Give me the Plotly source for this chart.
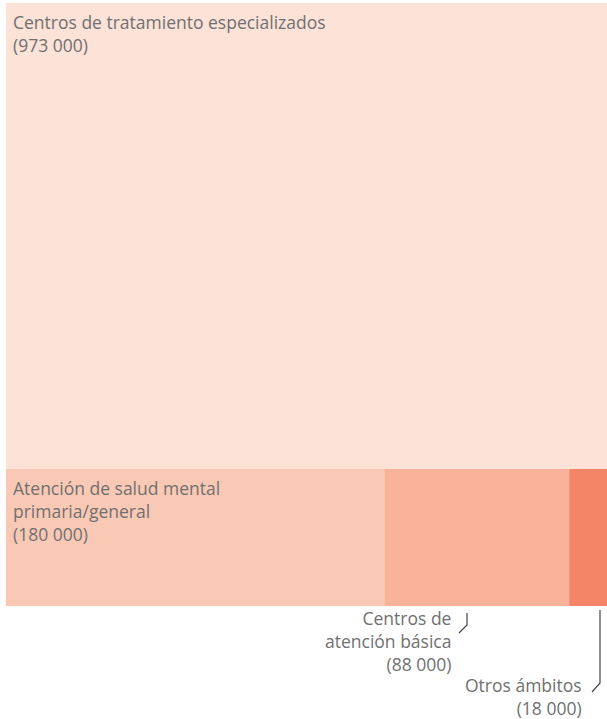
import plotly.graph_objects as go

# values (number of people), in the order they are laid out
labels = ["Centros de tratamiento especializados",
          "Atención de salud mental<br>primaria/general",
          "Centros de<br>atención básica",
          "Otros ámbitos"]
values = [973000, 180000, 88000, 18000]
colors = ["#FCE2D7", "#F9C9B5", "#F8B39A", "#F48566"]

W, H = 607, 719
ML, MR, MT, MB = 6, 0, 3, 113
TEXT = "#707070"
FONT = "Open Sans"
FS = 17.5


def fmt(v):
    return f"({v:,})".replace(",", " ")


def px(x, y):
    # pixel -> paper coords
    return (x - ML) / (W - ML - MR), (H - MB - y) / (H - MT - MB)


total = sum(values)
split = 1 - values[0] / total  # top block takes its share of the height
bottom_total = sum(values[1:])

rects = [(0, 1, split, 1)]
x = 0
for v in values[1:]:
    w = v / bottom_total
    rects.append((x, x + w, 0, split))
    x += w

fig = go.Figure()
for (x0, x1, y0, y1), c in zip(rects, colors):
    fig.add_trace(go.Scatter(
        x=[x0, x1, x1, x0, x0], y=[y0, y0, y1, y1, y0],
        mode="lines", fill="toself", fillcolor=c,
        line=dict(width=0), hoverinfo="skip", showlegend=False,
    ))

annotations = []
# labels inside the two big blocks
for i in (0, 1):
    x0, x1, y0, y1 = rects[i]
    annotations.append(dict(
        x=x0, y=y1, xref="x", yref="y", xanchor="left", yanchor="top",
        xshift=5, yshift=-5, align="left", showarrow=False,
        text=f"{labels[i]}<br>{fmt(values[i])}",
        font=dict(family=FONT, size=FS, color=TEXT),
    ))

# callouts for the two small blocks
for i, (tx, ty) in ((2, (453, 678)), (3, (584, 722))):
    ax, ay = px(tx, ty)
    annotations.append(dict(
        x=ax, y=ay, xref="paper", yref="paper", xanchor="right", yanchor="bottom",
        align="right", showarrow=False,
        text=f"{labels[i]}<br>{fmt(values[i])}",
        font=dict(family=FONT, size=FS, color=TEXT),
    ))

shapes = []
for pts in ([(467, 613), (467, 625), (459, 633)],
            [(600, 610), (600, 683), (592, 692)]):
    pp = [px(a, b) for a, b in pts]
    path = "M " + " L ".join(f"{a},{b}" for a, b in pp)
    shapes.append(dict(type="path", xref="paper", yref="paper", path=path,
                       line=dict(color="#444444", width=1.2)))

fig.update_layout(
    width=W, height=H,
    margin=dict(l=ML, r=MR, t=MT, b=MB),
    paper_bgcolor="white", plot_bgcolor="white",
    xaxis=dict(range=[0, 1], visible=False, fixedrange=True),
    yaxis=dict(range=[0, 1], visible=False, fixedrange=True),
    annotations=annotations, shapes=shapes,
    font=dict(family=FONT),
)

fig.write_html("out.html", config={"displayModeBar": False},
               post_script="document.body.style.margin='0';")
